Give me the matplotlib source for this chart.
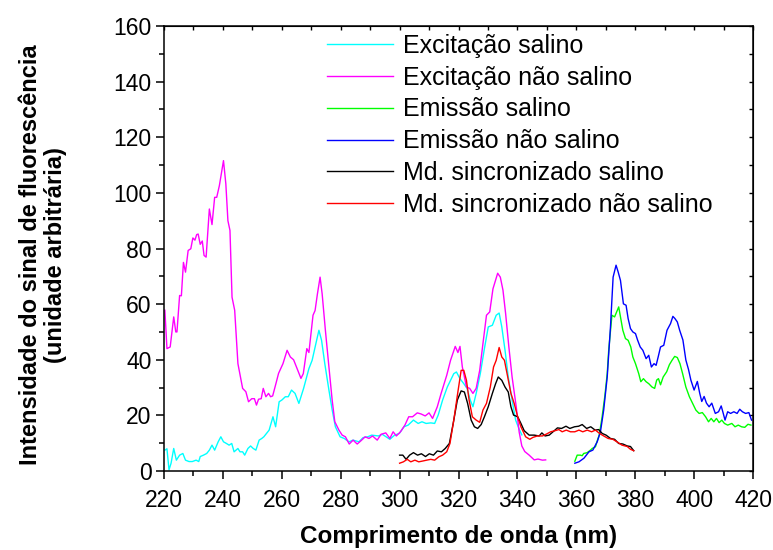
import matplotlib
matplotlib.use("Agg")
import matplotlib.pyplot as plt
from matplotlib.ticker import MultipleLocator

plt.rcParams['font.family'] = ['Liberation Sans', 'DejaVu Sans']

# ---- data ----
exc_sal_x = [220.3,221,221.7,222.4,223.3,224.2,225.3,226.4,227.3,228.5,229.6,230.9,231.8,232.3,233.4,234.5,235.4,236.3,237.2,238.4,239.3,240.2,241.2,242.1,243,243.8,245.1,245.8,246.7,247.4,248.5,249.4,250.3,251.2,252.3,253.2,253.9,254.8,255.7,257,257.9,259.1,260,261.2,262.2,263.3,264.5,265.8,267.4,269.2,270.3,271.7,272.6,273.5,274.6,276,277.1,278.2,279.8,281.2,282.8,284.2,286.2,287.6,289.2,290.5,292.8,294.1,296.7,298.3,299.9,301.5,302.9,304.7,306.3,307.6,309,310.6,311.9,313.1,314.6,316.2,317.3,318.4,319.3,320.5,321.8,322.9,324,324.9,326,327.4,328.8,330.1,331.5,332.8,333.8,334.7,335.8,336.9,338.2,339.4,340.5,341.5]
exc_sal_y = [7.5,8,0.4,2.8,8.1,3.9,5.7,6.3,3.9,3.4,3.4,3.9,3.4,5.2,5.7,6.3,7.5,9.3,7.5,10.5,12.3,10.5,9.9,9.3,9.9,6.9,8.1,6.9,6.9,5.7,8.1,9,8.1,7.5,11.1,11.7,12.3,13.5,14.7,19.5,15.9,24.9,25.5,26.7,26.7,29.1,27.9,24.3,29.7,36.8,39.8,46.4,50.6,47,38.6,29.1,22,15.9,12.3,11.7,10.5,11.1,10.5,12,12.3,12.9,12.6,13.2,11.4,12.9,13.5,15.9,16.5,18.3,17.1,17.7,17.1,17.3,17.1,20.1,25.5,30.2,32.6,35,35.6,33.2,31.4,29.7,25.5,23.1,27.9,35,44,51.8,52.4,56,56.8,51.8,43.4,33.8,25.5,18.3,15.3,13]

exc_nsal_x = [220.3,221,222.1,223.3,224,224.4,225.3,225.9,226.6,227.3,228.2,229.1,229.8,230.5,231.1,231.6,232.3,233,233.6,234.3,235.4,236.3,237.2,237.9,238.8,240.2,241,241.7,242.4,243.1,244,245.1,246.7,247.8,248.7,249.8,250.7,251.4,252.1,253,253.7,254.6,255.5,256.2,256.9,258,258.9,260.4,261.8,262.9,264,265.2,266.5,267.3,268.5,269.2,270.6,271.3,272.1,273,273.7,274.8,276,277.1,278,279.4,280.5,281.6,282.9,284.2,285.6,286.9,288.3,289.6,290.8,292.4,293.7,295.3,296.7,297.8,298.9,300.3,301.8,303.1,304.4,306,307.3,308.7,310,311.2,312.8,314.1,316,317.3,318.9,319.8,320.5,321.3,322.7,323.8,324.9,326,327.2,328.3,329.5,330.6,331.7,333.3,334.2,335.1,336,337.1,338.2,339.6,340.6,341.5,342.5,344,345.7,347,348.5,349.6]
exc_nsal_y = [57.8,44,44.6,55.4,50,50,63.1,63,75,71.5,79.3,79.9,83.8,83,85,85.2,81.5,82.7,77.5,76.9,94.2,88.6,98.4,98.4,102.6,111.6,103.2,90,86.5,62.5,57.8,38.6,29.7,28.5,24.9,26,26,23.7,25.8,26,29.7,26.7,27.9,26.7,27,31.4,35.1,38.6,43.4,41,40,36.8,33.3,35,44,42.6,56,57.7,63.7,69.7,63.7,50.6,37.4,25.5,17.7,14.7,12.9,12.3,9.7,11.1,9.7,10.9,12.3,11.7,12.6,11.1,13.2,13.7,11.7,14.1,12.6,14.1,16.5,19.5,19.5,20.9,20.5,19.8,20.9,18.9,23.1,27.9,34.4,39.8,44.8,42.6,44.8,37.4,30.2,29.7,27.9,29.7,36.2,45.8,56,57.2,65.5,71.1,69.7,65,56.6,44.6,33.8,23.1,14,9,7,5.7,4,4.3,3.9,4]

em_sal_x = [359.5,360.3,361.4,362,362.5,363.7,364.8,365.4,366.5,367,367.8,368.7,369.7,370.5,371,372.1,373,373.7,374.4,375,375.8,376.7,377.6,378.5,379.2,380.1,381.2,381.9,382.8,383.7,384.6,385.7,386.6,387.3,387.9,388.6,389.5,390.7,391.6,392.5,393.4,394.3,395.2,396.1,397.2,398.4,399.5,400.6,401.7,402.8,403.9,404.9,405.8,406.7,407.6,408.5,409.4,410.3,411.4,412.8,413.9,415,416.1,417.2,418.3,419.3]
em_sal_y = [3.5,5.7,5.7,5.5,6.3,6.6,7.5,8.1,8.7,10.5,13,19,27,35,43.4,56,55.4,57.2,59,55.4,50.6,47.6,47,44.6,41,38.6,35,32.1,33.2,32.1,31.4,30.2,29.7,32.7,33.2,31,33.8,35.7,38.2,39.8,41.2,40.8,38.6,35,30.2,26.7,24.3,21.9,20.7,21,19.5,17.7,18.9,17.7,18.9,17.4,18.3,17.1,16.5,17.1,15.9,16.5,15.9,15.7,16.8,16.5]

em_nsal_x = [359.5,360.9,362.6,364.3,365.6,367.1,368.2,369.3,370.5,371.6,372.5,373.5,374.2,375,376,376.9,377.6,378.4,379.2,380.1,380.8,381.7,382.6,383.7,384.6,385.5,386.4,387.1,387.8,388.6,389.7,390.8,392,392.8,393.5,394.3,395.1,396.2,397.2,398.1,398.9,400,401.1,401.9,402.6,403.4,404.2,405.1,406,407.2,408.3,409.2,409.9,410.5,411.4,412.4,413.5,414.6,415.5,416.4,417.5,418.6,419.5]
em_nsal_y = [2.8,3.3,4.6,6.9,7.5,10.5,14.1,21.9,33.8,51.8,69.7,74,71.6,68.5,60.1,59.6,54.8,51.2,50,49.4,47.1,44.6,43.4,40.4,41.6,37.4,38.6,38,41,44.6,45.2,50.6,53,55.6,54.8,53.6,50.6,47.1,39.9,36.5,32.7,29.1,32.2,28,25,26.8,24.4,23.1,24.4,20.7,21.3,23.4,20.7,18.3,21.3,20.7,21.3,20.7,22.2,21.3,20.7,21,18.3]

md_sal_x = [300,301.1,302.2,303.4,304.7,306.1,307.4,308.8,310.1,311.5,312.8,314.2,315.5,316.9,318.2,319.6,320.9,322,323.1,324.3,325.4,326.5,327.7,328.8,330.1,331.5,332.6,333.5,334.7,335.8,336.9,337.8,338.7,340.1,341.2,342.3,344,345.7,347.4,348.3,349.4,350.8,352.1,353.6,355,356.5,357.8,359.4,360.8,362,363.5,364.9,366.4,367.6,368.8,370.1,371.6,373,374.4,375.8,377.3,378.4,379.5]
md_sal_y = [5.7,5.7,4.2,5.7,6.6,5.7,6.2,5.2,6.2,5.7,7.2,6.9,8.1,9.9,17.1,25.5,28.8,28.4,24.3,18.3,15.9,15.3,16.7,19.5,23.1,27.9,31.4,33.8,32.6,30.2,28.4,23.1,20.1,19.5,17.1,14.5,12.9,12.9,12.6,13.7,12.6,12.9,14.1,15.5,15.3,16.1,15.3,15.9,16.1,16.7,15.3,15.9,14.7,14.9,13.5,12.9,11.7,11.4,9.9,9.7,9.0,8.8,7.3]

md_nsal_x = [300,301.3,302.6,303.8,305.2,306.5,307.9,309.2,310.6,311.9,313.3,314.6,316,317.1,318.4,319.8,320.9,321.8,322.7,323.6,324.7,326,327.2,328.3,329.5,330.8,331.9,332.8,333.8,334.7,335.6,336.6,337.8,338.9,340.1,341.2,342.8,344.2,345.3,346.8,348.5,349.9,351.3,352.8,354.1,355.2,356.6,358,359.5,360.9,362.2,363.7,365.2,366.5,367.9,369.3,370.8,372.4,373.8,375.5,377.3,378.4,379.5]
md_nsal_y = [2.8,3.3,4.2,3.3,3.9,3.3,3.6,3.9,4.2,3.9,5.1,5.7,6.9,9.9,18.3,28.5,36.2,36.2,32.6,25.5,19.5,18.3,17.5,21.9,24.3,30.2,37.4,39.8,44.4,41,39.8,34.4,27.9,24.3,19.5,15.9,12.3,11.4,12.1,12.6,12.6,13.3,14.1,14.5,14.9,14.1,14.7,14.1,14.1,14.7,14.1,14.7,14.1,14.7,13.5,12.6,11.7,11.4,10.5,9.3,8.8,7.8,7.3]

labels = ["Excitação salino", "Excitação não salino", "Emissão salino",
          "Emissão não salino", "Md. sincronizado salino", "Md. sincronizado não salino"]
colors = ["#00FFFF", "#FF00FF", "#00FF00", "#0000FF", "#000000", "#FF0000"]

series = [(exc_sal_x, exc_sal_y), (exc_nsal_x, exc_nsal_y), (em_sal_x, em_sal_y),
          (em_nsal_x, em_nsal_y), (md_sal_x, md_sal_y), (md_nsal_x, md_nsal_y)]

fig = plt.figure(figsize=(7.73, 5.5), dpi=100)
ax = fig.add_axes([164/773, 1-471/550, (753-164)/773, (471-26)/550])

for (xs, ys), lab, c in zip(series, labels, colors):
    ax.plot(xs, ys, color=c, lw=1.0, label=lab)

ax.set_xlim(220, 420)
ax.set_ylim(0, 160)
ax.xaxis.set_major_locator(MultipleLocator(20))
ax.xaxis.set_minor_locator(MultipleLocator(10))
ax.yaxis.set_major_locator(MultipleLocator(20))
ax.yaxis.set_minor_locator(MultipleLocator(10))
ax.tick_params(which='major', direction='out', length=6, width=1.1, labelsize=16.5)
ax.tick_params(axis='x', which='major', pad=7)
ax.tick_params(axis='y', which='major', pad=3)
ax.tick_params(which='minor', direction='out', length=3.5, width=1.1)
for s in ax.spines.values():
    s.set_linewidth(1.1)

top = ax.secondary_xaxis('top')
top.xaxis.set_major_locator(MultipleLocator(10))
top.tick_params(direction='in', length=3, width=1.0, labeltop=False)
top.set_xticklabels([])
right = ax.secondary_yaxis('right')
right.yaxis.set_major_locator(MultipleLocator(10))
right.tick_params(direction='in', length=3, width=1.0, labelright=False)
right.set_yticklabels([])

ax.set_xlabel("Comprimento de onda (nm)", fontsize=17.5, fontweight='bold', labelpad=9)
fig.text(43/773, 1-255/550, "Intensidade do sinal de fluorescência\n(unidade arbitrária)",
         rotation=90, ha='center', va='center', multialignment='center',
         fontsize=17, fontweight='bold', linespacing=1.1)

ax.legend(loc='upper left', bbox_to_anchor=(327/773, 1-34/550), bbox_transform=fig.transFigure,
          frameon=False, fontsize=18, handlelength=2.65, handletextpad=0.4,
          labelspacing=0.31, borderpad=0, borderaxespad=0)

fig.savefig("out.png", dpi=100)
